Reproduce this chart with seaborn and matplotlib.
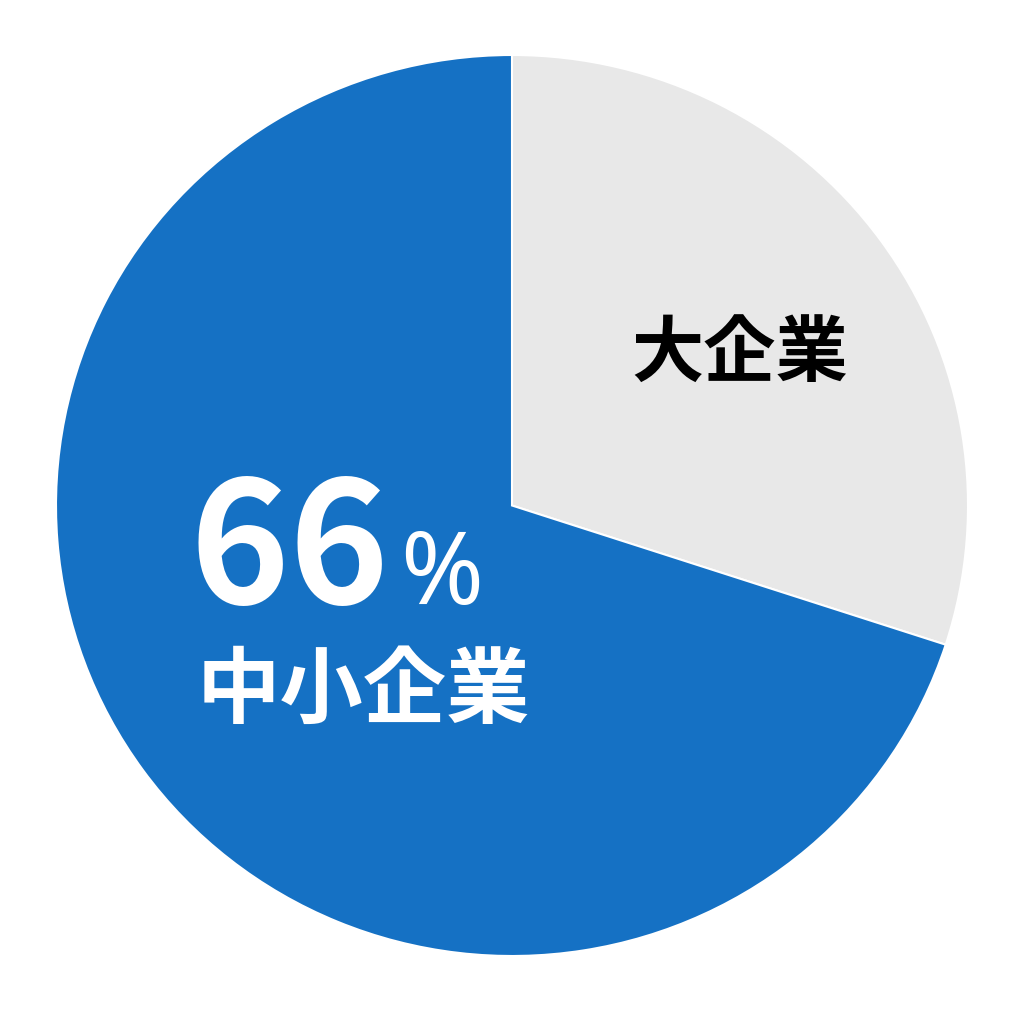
import matplotlib
matplotlib.use("Agg")
import matplotlib.pyplot as plt
import seaborn as sns

# slice shares (clockwise from 12 o'clock)
categories = ["大企業", "中小企業"]
shares = [30, 70]
colors = ["#E8E8E8", "#1571C4"]
pct_number = "66"
pct_sign = "%"

sns.set_theme(style="white")
plt.rcParams['font.family'] = ['Noto Sans CJK JP', 'DejaVu Sans']

fig = plt.figure(figsize=(10.24, 10.24), dpi=100)
fig.patch.set_facecolor("white")
# pie spans x 56..968, y 55..956 px
ax = fig.add_axes([56 / 1024, 68 / 1024, 912 / 1024, 901 / 1024])

ax.pie(shares, colors=colors, startangle=90, counterclock=False, radius=1,
       wedgeprops=dict(edgecolor="white", linewidth=1.5))
ax.set_xlim(-1, 1)
ax.set_ylim(-1, 1)
ax.set_aspect("auto")
ax.axis("off")

def px(x, y):
    return (x - 512) / 456, (505.5 - y) / 450.5

x0, y0 = px(189, 604)
ax.text(x0, y0, pct_number, fontsize=122, fontweight="bold", color="white",
        ha="left", va="baseline")
x1, y1 = px(400, 604)
ax.text(x1, y1, pct_sign, fontsize=72, fontweight="medium", color="white",
        ha="left", va="baseline", family=["Noto Sans", "DejaVu Sans"])

x2, y2 = px(363, 692)
ax.text(x2, y2, categories[1], fontsize=60, fontweight="semibold", color="white",
        ha="center", va="center")
x3, y3 = px(740, 355)
ax.text(x3, y3, categories[0], fontsize=52, fontweight="bold", color="black",
        ha="center", va="center")

fig.savefig("out.png", dpi=100, facecolor="white")
